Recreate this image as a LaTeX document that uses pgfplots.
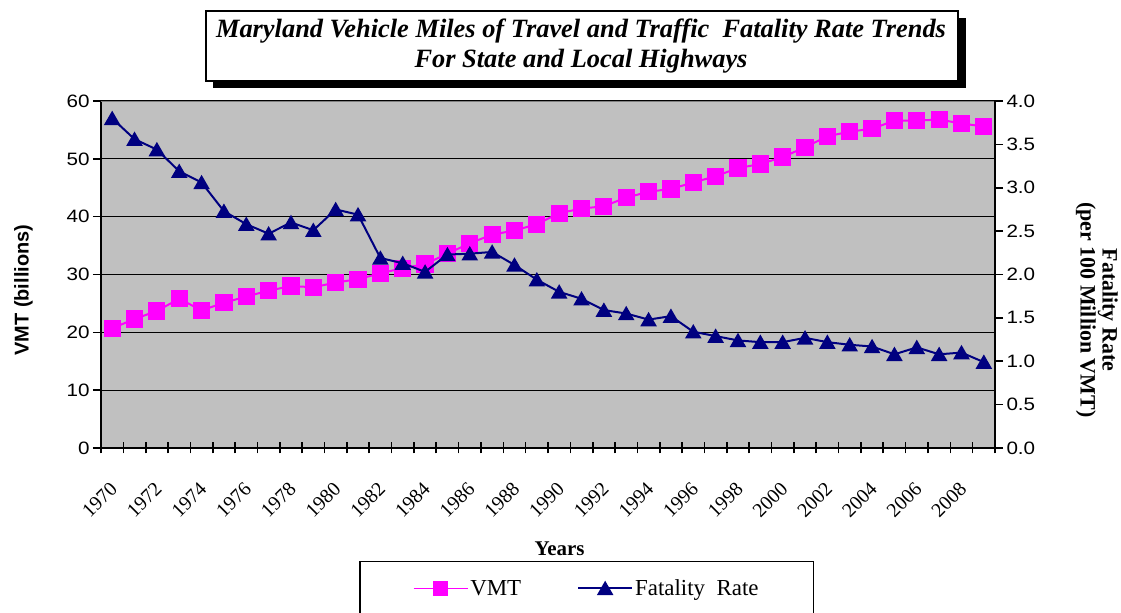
\documentclass[border=0pt]{standalone}
\usepackage{pgfplots}
\pgfplotsset{compat=1.18}
\usepackage{pgfplotstable}
\usepackage{fontspec}
\setmainfont{Liberation Serif}
\newfontfamily\arialf[FakeStretch=1.15]{Liberation Sans}
\newfontfamily\arialb{Liberation Sans}
\definecolor{vmtc}{HTML}{FF00FF}
\definecolor{fatc}{HTML}{000080}
\definecolor{bgc}{HTML}{C0C0C0}

\pgfplotstableread{
idx year vmt rate
0 1970 20.7 3.80
1 1971 22.3 3.56
2 1972 23.7 3.44
3 1973 25.8 3.19
4 1974 23.8 3.06
5 1975 25.1 2.73
6 1976 26.2 2.58
7 1977 27.2 2.47
8 1978 28.0 2.60
9 1979 27.8 2.51
10 1980 28.6 2.75
11 1981 29.2 2.69
12 1982 30.2 2.19
13 1983 31.1 2.13
14 1984 31.8 2.03
15 1985 33.6 2.23
16 1986 35.4 2.24
17 1987 36.9 2.26
18 1988 37.6 2.11
19 1989 38.7 1.94
20 1990 40.6 1.80
21 1991 41.4 1.72
22 1992 41.8 1.59
23 1993 43.3 1.55
24 1994 44.3 1.48
25 1995 44.8 1.52
26 1996 45.9 1.34
27 1997 47.0 1.29
28 1998 48.4 1.24
29 1999 49.1 1.22
30 2000 50.3 1.22
31 2001 52.0 1.27
32 2002 53.9 1.22
33 2003 54.7 1.19
34 2004 55.2 1.17
35 2005 56.6 1.08
36 2006 56.6 1.16
37 2007 56.8 1.08
38 2008 56.1 1.10
39 2009 55.6 0.99
}\datatable

\pgfplotsset{
  common/.style={
    at={(101bp,165bp)}, anchor=south west, scale only axis,
    width=894bp, height=347bp,
    xmin=-0.5, xmax=39.5,
    /pgf/number format/assume math mode=true,
    axis line style={black, line width=2bp},
    major tick style={black, line width=1.6bp},
    minor tick style={black, line width=1.6bp},
    yticklabel style={font=\arialf\fontsize{18}{20}\selectfont},
    ytick align=outside, major tick length=8bp,
  },
}

\begin{document}
\begin{tikzpicture}
\useasboundingbox (0bp,0bp) rectangle (1121bp,613bp);
% title box with shadow
\fill[black] (213bp,525bp) rectangle (966bp,595bp);
\draw[fill=white, line width=1.6bp] (206bp,532bp) rectangle (958bp,602bp);
\node[anchor=base, inner sep=0pt, font=\fontsize{26.5}{28}\selectfont\bfseries\itshape] at (581bp,575bp) {Maryland Vehicle Miles of Travel and Traffic\ \ Fatality Rate Trends};
\node[anchor=base, inner sep=0pt, font=\fontsize{26.5}{28}\selectfont\bfseries\itshape] at (581bp,545bp) {For State and Local Highways};

\begin{axis}[common,
  ymin=0, ymax=60, ytick={0,10,...,60},
  axis background/.style={fill=bgc},
  ymajorgrids, major grid style={black, line width=1.3bp},
  xtick={0,2,...,38},
  xticklabels={1970,1972,1974,1976,1978,1980,1982,1984,1986,1988,1990,1992,1994,1996,1998,2000,2002,2004,2006,2008},
  major x tick style={draw=none},
  minor xtick={-0.5,0.5,...,39.5},
  minor tick length=11bp, xtick align=center,
  xtick pos=bottom, ytick pos=left,
  xticklabel style={xshift=4bp, yshift=-31bp, rotate=45, anchor=east, font=\fontsize{20}{22}\selectfont},
  xlabel={Years},
  every axis x label/.style={at={(axis description cs:0.513,-0.3084)}, anchor=base, font=\bfseries\fontsize{21}{24}\selectfont},
  ylabel={VMT (billions)},
  every axis y label/.style={at={(axis description cs:-0.0867,0.455)}, rotate=90, anchor=center, font=\arialb\bfseries\fontsize{20}{24}\selectfont},
]
\addplot[color=vmtc, line width=2bp, mark=square*, mark size=7.6bp, mark options={solid, fill=vmtc}] table[x=idx, y=vmt] {\datatable};
\draw[color=gray, line width=2bp] (rel axis cs:0,1) -- (rel axis cs:1,1);
\end{axis}

\begin{axis}[common,
  ymin=0, ymax=4, ytick={0,0.5,...,4},
  axis x line=none, axis y line*=right,
  yticklabel={\pgfmathprintnumber[fixed, fixed zerofill, precision=1]{\tick}},
  ylabel={Fatality Rate\\(per 100 Million VMT)},
  every axis y label/.style={at={(axis description cs:1.114,0.398)}, rotate=-90, anchor=center, align=center, font=\bfseries\fontsize{22}{22}\selectfont},
  legend style={at={(axis description cs:0.2886,-0.3256)}, anchor=north west, draw=black, line width=1.5bp,
    font=\fontsize{23}{25}\selectfont, inner xsep=53bp, inner ysep=16bp,
    /tikz/every even column/.append style={column sep=54bp}},
  legend columns=2,
  legend image code/.code={\draw[mark repeat=2, mark phase=2] plot coordinates {(0bp,0bp) (27bp,0bp) (54bp,0bp)};},
]
\addlegendimage{color=vmtc, line width=1.5bp, mark=square*, mark size=6.5bp, mark options={solid, fill=vmtc}}
\addlegendentry{VMT}
\addplot[color=fatc, line width=2bp, mark=triangle*, mark size=7.6bp, mark options={solid, fill=fatc, yshift=-1.9bp}] table[x=idx, y=rate] {\datatable};
\addlegendentry{Fatality\ \ Rate}
\end{axis}
\end{tikzpicture}
\end{document}
